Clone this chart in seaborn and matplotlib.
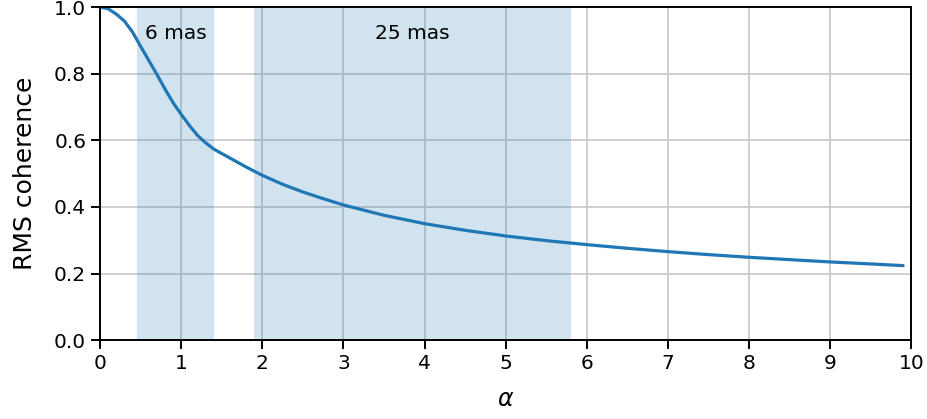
import numpy as np
import pandas as pd
import matplotlib
matplotlib.use("Agg")
import matplotlib.pyplot as plt
import seaborn as sns

# Curve
alpha = [0.0, 0.1, 0.2, 0.3, 0.4, 0.5, 0.6, 0.7, 0.8, 0.9, 1.0, 1.1, 1.2, 1.3, 1.4,
         1.6, 1.8, 2.0, 2.25, 2.5, 2.75, 3.0, 3.5, 4.0, 4.5, 5.0, 5.5, 6.0, 6.5,
         7.0, 7.5, 8.0, 8.5, 9.0, 9.5, 9.9]
coherence = [1.0, 0.995, 0.979, 0.958, 0.925, 0.882, 0.84, 0.798, 0.754, 0.713, 0.678,
             0.645, 0.615, 0.593, 0.574, 0.547, 0.52, 0.495, 0.468, 0.445, 0.425,
             0.406, 0.375, 0.350, 0.330, 0.313, 0.299, 0.287, 0.276, 0.266, 0.257,
             0.249, 0.242, 0.235, 0.229, 0.224]

# Shaded ranges and their labels
span_starts = [0.456, 1.90]
span_ends = [1.406, 5.81]
span_labels = ["6 mas", "25 mas"]

df = pd.DataFrame({"alpha": alpha, "coherence": coherence})

sns.set_style("ticks")
plt.rcParams["text.color"] = "black"
plt.rcParams["axes.labelcolor"] = "black"
plt.rcParams["xtick.color"] = "black"
plt.rcParams["ytick.color"] = "black"

fig, ax = plt.subplots(figsize=(9.27, 4.19), dpi=100)
fig.subplots_adjust(left=0.108, right=0.983, top=0.983, bottom=0.188)

for x0, x1, lab in zip(span_starts, span_ends, span_labels):
    ax.axvspan(x0, x1, color="tab:blue", alpha=0.2, lw=0)
    ax.text((x0 + x1) / 2, 0.92, lab, ha="center", va="center", fontsize=14.5,
            color="black")

sns.lineplot(data=df, x="alpha", y="coherence", color="#1f77b4", lw=2.3, ax=ax)

ax.grid(True, color="#cccccc", lw=1.3)
ax.set_xlim(0, 10)
ax.set_ylim(0, 1)
ax.set_xticks(range(0, 11))
ax.set_yticks([0.0, 0.2, 0.4, 0.6, 0.8, 1.0])
ax.tick_params(labelsize=14.5, colors="black", width=1.4, length=6.5)
ax.set_xlabel(r"$\alpha$", fontsize=17, labelpad=10)
ax.set_ylabel("RMS coherence", fontsize=18, labelpad=12.5)
for s in ax.spines.values():
    s.set_color("black")
    s.set_linewidth(1.4)

fig.savefig("out.png", dpi=100)
